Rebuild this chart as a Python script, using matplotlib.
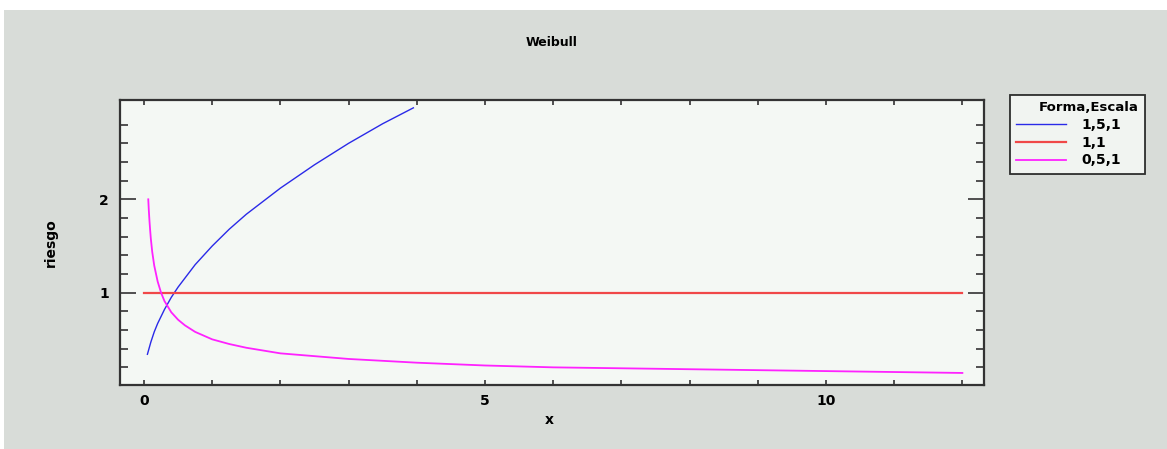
import matplotlib
matplotlib.use("Agg")
import matplotlib.pyplot as plt
from matplotlib.ticker import FixedLocator, NullFormatter

# ---- data ----
title = "Weibull"
x_label = "x"
y_label = "riesgo"
legend_title = "Forma,Escala"
series_labels = ["1,5,1", "1,1", "0,5,1"]

x_blue = [0.05, 0.1, 0.15, 0.2, 0.3, 0.4, 0.5, 0.75, 1.0, 1.25, 1.5, 2.0, 2.5, 3.0, 3.5, 3.95]
y_blue = [0.34, 0.47, 0.58, 0.67, 0.82, 0.95, 1.06, 1.30, 1.50, 1.68, 1.84, 2.12, 2.37, 2.60, 2.81, 2.98]

x_red = [0.0, 12.0]
y_red = [1.0, 1.0]

x_mag = [0.0625, 0.07, 0.08, 0.09, 0.1, 0.12, 0.15, 0.2, 0.25, 0.3, 0.4, 0.5, 0.6, 0.75,
         1.0, 1.25, 1.5, 2.0, 2.5, 3.0, 4.0, 5.0, 6.0, 7.0, 8.0, 9.0, 10.0, 11.0, 12.0]
y_mag = [2.00, 1.89, 1.77, 1.67, 1.58, 1.44, 1.29, 1.12, 1.00, 0.91, 0.79, 0.71, 0.65, 0.58,
         0.50, 0.45, 0.41, 0.35, 0.32, 0.29, 0.25, 0.22, 0.20, 0.19, 0.18, 0.17, 0.16, 0.15, 0.14]

x_major = [0, 5, 10]
x_minor = [1, 2, 3, 4, 6, 7, 8, 9, 11, 12]
y_major = [1, 2]
y_minor = [0.2, 0.4, 0.6, 0.8, 1.2, 1.4, 1.6, 1.8, 2.2, 2.4, 2.6, 2.8]

# ---- figure ----
W, H = 1167, 449
fig = plt.figure(figsize=(W / 100, H / 100), dpi=100)
fig.patch.set_facecolor("white")
bg = fig.add_axes([4 / W, 0, 1 - 4 / W, (H - 10) / H])
bg.set_facecolor("#d8dcd8")
bg.set_xticks([]); bg.set_yticks([])
for s in bg.spines.values():
    s.set_visible(False)
bg.set_zorder(-10)

FONT = "DejaVu Sans"
ax = fig.add_axes([120 / W, (H - 385) / H, (984 - 120) / W, (385 - 100) / H])
ax.set_facecolor("#f4f8f4")

ax.plot(x_blue, y_blue, color="#2a2ae8", lw=1.0, label=series_labels[0])
ax.plot(x_red, y_red, color="#f04848", lw=1.6, label=series_labels[1])
ax.plot(x_mag, y_mag, color="#ff22ff", lw=1.3, label=series_labels[2])

ax.set_xlim(-0.352, 12.317)
ax.set_ylim(0.011, 3.064)

ax.xaxis.set_major_locator(FixedLocator(x_major))
ax.xaxis.set_minor_locator(FixedLocator(x_minor))
ax.yaxis.set_major_locator(FixedLocator(y_major))
ax.yaxis.set_minor_locator(FixedLocator(y_minor))
ax.yaxis.set_minor_formatter(NullFormatter())
ax.xaxis.set_minor_formatter(NullFormatter())

ax.tick_params(axis="x", which="both", direction="in", top=True, bottom=True,
               length=3.6, width=1.2, color="#333333", pad=6.5)
ax.tick_params(axis="y", which="major", direction="in", left=True, right=True,
               length=11.5, width=1.2, color="#333333", pad=8)
ax.tick_params(axis="y", which="minor", direction="in", left=True, right=True,
               length=5.8, width=1.2, color="#333333")
for lab in ax.get_xticklabels() + ax.get_yticklabels():
    lab.set_fontfamily(FONT)
    lab.set_fontweight("bold")
    lab.set_fontsize(10)

for s in ax.spines.values():
    s.set_color("#333333")
    s.set_linewidth(1.6)

fig.text(552 / W, 1 - 43 / H, title, ha="center", va="center",
         fontsize=9, fontweight="bold", family=FONT)
fig.text(549 / W, 1 - 420 / H, x_label, ha="center", va="center",
         fontsize=10, fontweight="bold", family=FONT)
fig.text(51 / W, 1 - 243 / H, y_label, ha="center", va="center", rotation=90,
         fontsize=10, fontweight="bold", family=FONT)

leg = ax.legend(loc="upper left",
                bbox_to_anchor=(1010 / W, (H - 172) / H, 135 / W, 77 / H),
                bbox_transform=fig.transFigure, mode="expand", title=legend_title,
                prop={"family": FONT, "weight": "bold", "size": 10},
                title_fontproperties={"family": FONT, "weight": "bold", "size": 9.5},
                frameon=True, fancybox=False, shadow=False,
                handlelength=3.6, handletextpad=1.1, borderpad=0.45,
                labelspacing=0.27, borderaxespad=0, alignment="right")
leg.get_frame().set_edgecolor("black")
leg.get_frame().set_linewidth(1.3)
leg.get_frame().set_facecolor("#f8fbf8")

fig.savefig("out.png", dpi=100, facecolor=fig.get_facecolor())
